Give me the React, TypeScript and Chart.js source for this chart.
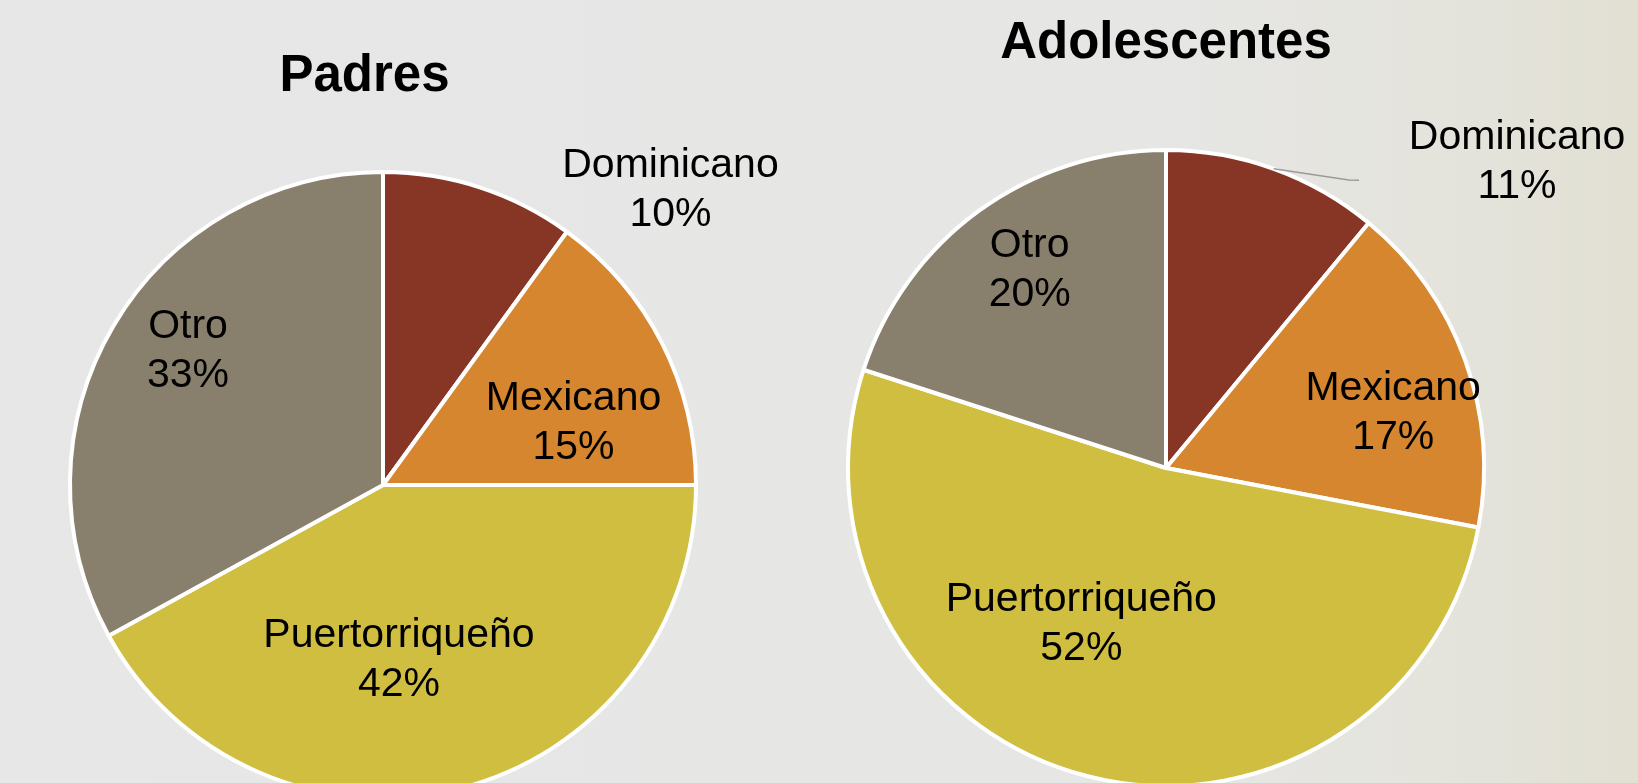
import React, { useEffect, useRef } from "react";
import { Chart, registerables } from "chart.js";

Chart.register(...registerables);

// ---- data ----
const categories = ["Dominicano", "Mexicano", "Puertorriqueño", "Otro"];
const padresValues = [10, 15, 42, 33];
const adolescentesValues = [11, 17, 52, 20];
const chartTitles = ["Padres", "Adolescentes"];
const sliceColors = ["#873525", "#D5862E", "#D0BE41", "#887F6C"];

// label placement: polar (degrees clockwise from top, distance in radii)
const padresLabelPos = [
  { a: 44.3, d: 1.315 },
  { a: 72.0, d: 0.64 },
  { a: 174.8, d: 0.562 },
  { a: 304.4, d: 0.755 },
];
const adolescentesLabelPos = [
  { a: 48.9, d: 1.465 },
  { a: 76.4, d: 0.735 },
  { a: 208.4, d: 0.56 },
  { a: 325.4, d: 0.755 },
];

const FONT = '"Liberation Sans", Arial, "DejaVu Sans", sans-serif';

type LabelPos = { a: number; d: number };

function makeLabelPlugin(
  title: string,
  titleDx: number,
  titleDy: number,
  positions: LabelPos[],
  leaderIndex: number | null,
  leaderElbow: [number, number] | null,
  leaderEnd: [number, number] | null
) {
  return {
    id: "pieLabels",
    afterDatasetsDraw(chart: any) {
      const ctx = chart.ctx as CanvasRenderingContext2D;
      const meta = chart.getDatasetMeta(0);
      const arcs = meta.data as any[];
      if (!arcs.length) return;
      const cx = arcs[0].x;
      const cy = arcs[0].y;
      const r = arcs[0].outerRadius;
      const values = chart.data.datasets[0].data as number[];
      const labels = chart.data.labels as string[];
      ctx.save();

      // leader line
      if (leaderIndex !== null && leaderElbow && leaderEnd) {
        const arc = arcs[leaderIndex];
        const mid = (arc.startAngle + arc.endAngle) / 2;
        ctx.beginPath();
        ctx.strokeStyle = "#9a9a9a";
        ctx.lineWidth = 1.5;
        ctx.moveTo(cx + Math.cos(mid) * r, cy + Math.sin(mid) * r);
        ctx.lineTo(cx + leaderElbow[0] * r, cy + leaderElbow[1] * r);
        ctx.lineTo(cx + leaderEnd[0] * r, cy + leaderEnd[1] * r);
        ctx.stroke();
      }

      // slice labels
      ctx.fillStyle = "#000000";
      ctx.textAlign = "center";
      ctx.textBaseline = "middle";
      ctx.font = `41px ${FONT}`;
      positions.forEach((p, i) => {
        const ang = (p.a * Math.PI) / 180;
        const x = cx + Math.sin(ang) * p.d * r;
        const y = cy - Math.cos(ang) * p.d * r;
        ctx.fillText(labels[i], x, y - 24.5);
        ctx.fillText(`${values[i]}%`, x, y + 24.5);
      });

      // title
      ctx.font = `bold 51px ${FONT}`;
      ctx.textBaseline = "alphabetic";
      ctx.fillText(title, cx + titleDx, cy + titleDy);
      ctx.restore();
    },
  };
}

function PieChart(props: {
  values: number[];
  title: string;
  positions: LabelPos[];
  left: number;
  width: number;
  height: number;
  padding: { left: number; right: number; top: number; bottom: number };
  titleDx: number;
  titleDy: number;
  leaderIndex: number | null;
  leaderElbow: [number, number] | null;
  leaderEnd: [number, number] | null;
}) {
  const ref = useRef<HTMLCanvasElement | null>(null);
  useEffect(() => {
    if (!ref.current) return;
    const chart = new Chart(ref.current, {
      type: "pie",
      data: {
        labels: categories,
        datasets: [
          {
            data: props.values,
            backgroundColor: sliceColors,
            borderColor: "#ffffff",
            borderWidth: 4,
          },
        ],
      },
      options: {
        responsive: false,
        animation: false,
        layout: { padding: props.padding },
        plugins: {
          legend: { display: false },
          tooltip: { enabled: false },
          title: { display: false },
        },
      },
      plugins: [
        makeLabelPlugin(
          props.title,
          props.titleDx,
          props.titleDy,
          props.positions,
          props.leaderIndex,
          props.leaderElbow,
          props.leaderEnd
        ),
      ],
    } as any);
    return () => chart.destroy();
  }, []);
  return (
    <canvas
      ref={ref}
      width={props.width}
      height={props.height}
      style={{
        position: "absolute",
        left: props.left,
        top: 0,
        width: props.width,
        height: props.height,
      }}
    />
  );
}

export default function App() {
  return (
    <div
      style={{
        position: "fixed",
        inset: 0,
        overflow: "hidden",
        background:
          "linear-gradient(90deg, #e7e7e7 0%, #e6e6e5 70%, #e4e3db 90%, #e2e0d3 100%)",
      }}
    >
      <PieChart
        values={padresValues}
        title={chartTitles[0]}
        positions={padresLabelPos}
        left={0}
        width={800}
        height={820}
        padding={{ left: 68, right: 102, top: 170, bottom: 20 }}
        titleDx={-18.5}
        titleDy={-394}
        leaderIndex={null}
        leaderElbow={null}
        leaderEnd={null}
      />
      <PieChart
        values={adolescentesValues}
        title={chartTitles[1]}
        positions={adolescentesLabelPos}
        left={800}
        width={838}
        height={820}
        padding={{ left: 46, right: 152, top: 148, bottom: 32 }}
        titleDx={0}
        titleDy={-410}
        leaderIndex={0}
        leaderElbow={[0.575, -0.906]}
        leaderEnd={[0.607, -0.905]}
      />
    </div>
  );
}
